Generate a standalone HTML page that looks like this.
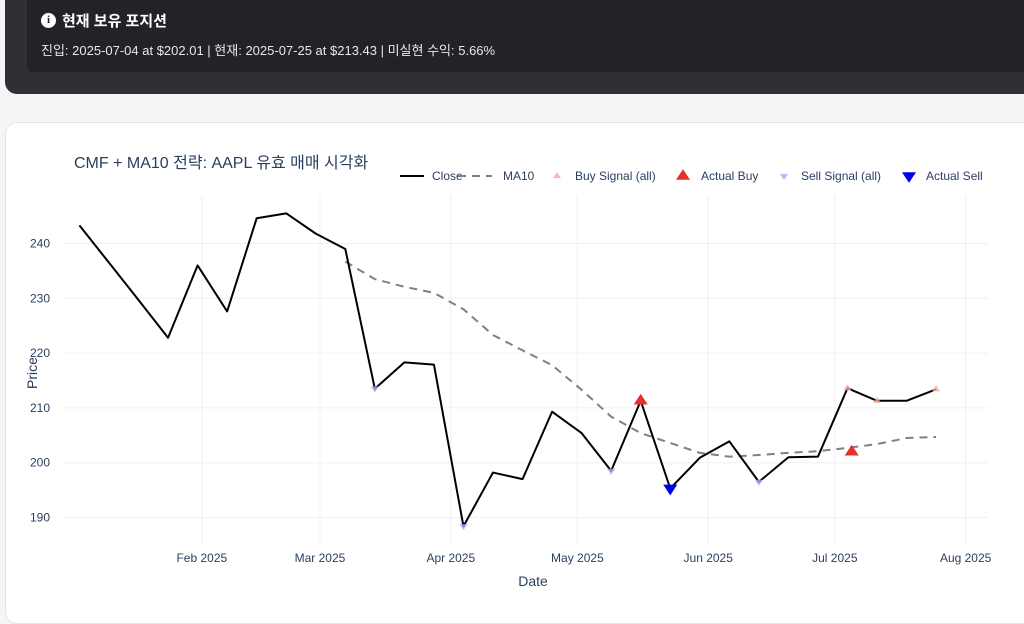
<!DOCTYPE html>
<html><head><meta charset="utf-8"><style>
body{margin:0;width:1024px;height:613px;overflow:hidden;background:#f4f5f7;font-family:"Liberation Sans","Noto Sans CJK KR",sans-serif;position:relative}
#top{position:absolute;left:5px;top:-20px;width:1040px;height:114px;background:#2e3034;border-radius:12px}
#inner{position:absolute;left:27px;top:-10px;width:1010px;height:82px;background:#212327;border-radius:6px}
#card{position:absolute;left:5px;top:122px;width:1040px;height:500px;background:#fff;border:1px solid #e2e4e8;border-radius:12px}
</style></head><body>
<div id="top"></div>
<div id="inner">
 <div style="position:absolute;left:14px;top:20px;color:#fff;font-size:15px;font-weight:bold;display:flex;align-items:center">
  <span style="display:inline-block;width:15px;height:15px;border-radius:50%;background:#fff;color:#212327;font-size:11px;text-align:center;line-height:15px;margin-right:6px;font-family:'Liberation Serif',serif">i</span>현재 보유 포지션</div>
 <div style="position:absolute;left:14px;top:50px;color:#e8e8e8;font-size:13px">진입: 2025-07-04 at $202.01 | 현재: 2025-07-25 at $213.43 | 미실현 수익: 5.66%</div>
</div>
<div id="card"></div>
<svg id="chart" width="1024" height="613" style="position:absolute;left:0;top:0" font-family="Liberation Sans, Noto Sans CJK KR, sans-serif">
<text x="74" y="168" font-size="16" fill="#2a3f5f">CMF + MA10 전략: AAPL 유효 매매 시각화</text>
<g id="grid"></g><g id="axes"></g><g id="series"></g><g id="legend"></g>
<text x="533" y="586" font-size="14" fill="#2a3f5f" text-anchor="middle">Date</text>
<text transform="translate(37,373) rotate(-90)" font-size="14" fill="#2a3f5f" text-anchor="middle">Price</text>
</svg>
<script>
const dates=["2025-01-03","2025-01-10","2025-01-17","2025-01-24","2025-01-31","2025-02-07","2025-02-14","2025-02-21","2025-02-28","2025-03-07","2025-03-14","2025-03-21","2025-03-28","2025-04-04","2025-04-11","2025-04-18","2025-04-25","2025-05-02","2025-05-09","2025-05-16","2025-05-23","2025-05-30","2025-06-06","2025-06-13","2025-06-20","2025-06-27","2025-07-04","2025-07-11","2025-07-18","2025-07-25"];
const closeVals=[243.3,236.5,229.7,222.8,236.0,227.6,244.6,245.5,241.8,239.0,213.5,218.3,217.9,188.4,198.2,197.0,209.3,205.4,198.5,211.3,195.3,200.9,203.9,196.5,201.0,201.1,213.6,211.3,211.3,213.4];
const ma10Vals=[null,null,null,null,null,null,null,null,null,236.7,233.5,232.1,231.0,228.0,223.3,220.5,217.8,213.3,208.4,205.4,203.6,201.8,201.1,201.4,201.8,202.1,202.7,203.4,204.5,204.7];
const buyAllDates=["2025-05-16","2025-07-04","2025-07-11","2025-07-25"];
const buyAllVals=[211.3,213.6,211.3,213.4];
const actualBuyDates=["2025-05-16","2025-07-05"];
const actualBuyVals=[211.3,202.0];
const sellAllDates=["2025-03-14","2025-04-04","2025-05-09","2025-05-23","2025-06-13"];
const sellAllVals=[213.5,188.4,198.5,195.3,196.5];
const actualSellDates=["2025-05-23"];
const actualSellVals=[195.3];
const yTicks=[190,200,210,220,230,240];
const xTickDates=["2025-02-01","2025-03-01","2025-04-01","2025-05-01","2025-06-01","2025-07-01","2025-08-01"];
const xTickLabels=["Feb 2025","Mar 2025","Apr 2025","May 2025","Jun 2025","Jul 2025","Aug 2025"];

const NS="http://www.w3.org/2000/svg";
const t0=Date.UTC(2025,0,1);
function xs(d){const p=d.split("-");return 71+(Date.UTC(+p[0],+p[1]-1,+p[2])-t0)/864e5*4.22;}
function ys(v){return 243.5+(240-v)*5.48;}
function mk(tag,attrs,parent){const e=document.createElementNS(NS,tag);for(const k in attrs)e.setAttribute(k,attrs[k]);parent.appendChild(e);return e;}
const grid=document.getElementById("grid"),axes=document.getElementById("axes"),ser=document.getElementById("series"),leg=document.getElementById("legend");
yTicks.forEach(v=>{
 const l=mk("line",{x1:64,x2:988,y1:ys(v),y2:ys(v),stroke:"#eef0f6","stroke-width":1},grid);
 
 
 const t=mk("text",{x:50,y:ys(v)+4,"font-size":12,fill:"#2a3f5f","text-anchor":"end"},axes);
 t.textContent=v;
 
 
});
xTickDates.forEach((d,i)=>{
 const l=mk("line",{x1:xs(d),x2:xs(d),y1:195,y2:545,stroke:"#eef0f6","stroke-width":1},grid);
 
 
 const t=mk("text",{x:xs(d),y:562,"font-size":12,fill:"#2a3f5f","text-anchor":"middle"},axes);
 t.textContent=xTickLabels[i];
 
 
});
let mp="";ma10Vals.forEach((v,i)=>{if(v!=null)mp+=(mp?"L":"M")+xs(dates[i])+","+ys(v);});
const ma=mk("path",{d:mp,fill:"none",stroke:"#808080","stroke-width":2,"stroke-dasharray":"8,6"},ser);


const cp=closeVals.map((v,i)=>(i?"L":"M")+xs(dates[i])+","+ys(v)).join("");
const cl=mk("path",{d:cp,fill:"none",stroke:"#000","stroke-width":2,"stroke-linejoin":"round"},ser);


function tri(x,y,s,up,fill,op,parent){const h=s*0.9;const pts=up?`${x-s},${y+h*0.6} ${x+s},${y+h*0.6} ${x},${y-h*1.1}`:`${x-s},${y-h*0.6} ${x+s},${y-h*0.6} ${x},${y+h*1.1}`;return mk("polygon",{points:pts,fill:fill,"fill-opacity":op},parent);}
buyAllDates.forEach((d,i)=>{const p=tri(xs(d),ys(buyAllVals[i]),4,true,"#f4a9a0",0.8,ser);
 
 });
sellAllDates.forEach((d,i)=>{const p=tri(xs(d),ys(sellAllVals[i]),4,false,"#a8a8ff",0.8,ser);
 
 });
actualBuyDates.forEach((d,i)=>{const p=tri(xs(d),ys(actualBuyVals[i]),7,true,"#e8302a",1,ser);
 
 });
actualSellDates.forEach((d,i)=>{const p=tri(xs(d),ys(actualSellVals[i]),7,false,"#0000ee",1,ser);
 
 });
// legend
function ltext(x,s){const t=mk("text",{x:x,y:180,"font-size":12,fill:"#2a3f5f"},leg);t.textContent=s;return t;}
let e;
e=mk("line",{x1:400,x2:424,y1:176,y2:176,stroke:"#000","stroke-width":2},leg);
e=ltext(432,"Close");
e=mk("line",{x1:458,x2:492,y1:176,y2:176,stroke:"#808080","stroke-width":2,"stroke-dasharray":"8,6"},leg);
e=ltext(503,"MA10");
e=tri(557,176,4,true,"#f4a9a0",0.8,leg);
e=ltext(575,"Buy Signal (all)");
e=tri(683,176,7,true,"#e8302a",1,leg);
e=ltext(701,"Actual Buy");
e=tri(784,176,4,false,"#a8a8ff",0.8,leg);
e=ltext(801,"Sell Signal (all)");
e=tri(909,176,7,false,"#0000ee",1,leg);
e=ltext(926,"Actual Sell");
</script>
</body></html>
